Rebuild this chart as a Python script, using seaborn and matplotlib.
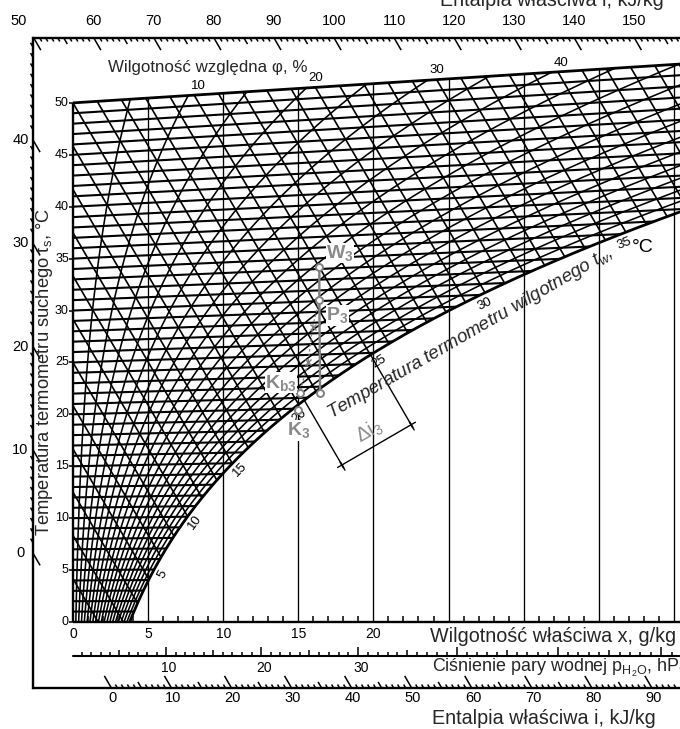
import numpy as np
import pandas as pd
import matplotlib
matplotlib.use("Agg")
import matplotlib.pyplot as plt
from matplotlib.patches import Polygon
from matplotlib.collections import LineCollection
import seaborn as sns

# ---------------- data (chart values) ----------------
isotherm_t = list(range(0, 51))                 # dry-bulb isotherms, °C
isenthalp_kcal = list(range(0, 38))             # isenthalps every 1 kcal/kg
phi_lines = list(range(5, 100, 5))              # relative humidity lines, %
x_vertical = [5, 10, 15, 20, 25, 30, 35, 40]    # g/kg
tw_labels = [5, 10, 15, 20, 25, 30, 35]         # wet-bulb labels on saturation curve
phi_labels = [10, 20, 30, 40]
t_labels = [0, 5, 10, 15, 20, 25, 30, 35, 40, 45, 50]
x_labels = [0, 5, 10, 15, 20]
p_labels = [10, 20, 30]
i_bottom_labels = [0, 10, 20, 30, 40, 50, 60, 70, 80, 90]
i_top_labels = [50, 60, 70, 80, 90, 100, 110, 120, 130, 140, 150]
i_left_labels = [0, 10, 20, 30, 40]
proc_names = ["W3", "P3", "D3", "Kb3", "K3"]
proc_x = [16.4, 16.4, 16.45, 15.1, 15.0]       # g/kg
proc_t = [33.2, 30.1, 21.4, 21.5, 19.9]        # °C
aux_x = [15.95, 15.65]                          # small x-marks between P3 and Kb3
aux_t = [27.6, 24.3]

# ---------------- psychrometric relations ----------------
P_ATM = 1013.25


def p_sat(t):
    return 6.112 * np.exp(17.62 * t / (243.12 + t))


def x_of(t, phi):
    pv = phi / 100.0 * p_sat(t)
    return 622.0 * pv / (P_ATM - pv)


def Y_of(t, x):  # oblique ordinate = i - 2.501 x
    return 1.005 * t + 0.00186 * t * x


# ---------------- figure / axes ----------------
sns.set_theme(style="white")
plt.rcParams["font.family"] = ["Liberation Sans", "DejaVu Sans"]
plt.rcParams["mathtext.fontset"] = "custom"
plt.rcParams["mathtext.rm"] = "Liberation Sans"
plt.rcParams["mathtext.it"] = "Liberation Sans:italic"
plt.rcParams["mathtext.bf"] = "Liberation Sans:bold"

fig = plt.figure(figsize=(6.8, 7.29), dpi=100)
ax = fig.add_axes([0, 0, 1, 1])
XL, XR, YB, YT = -4.86, 40.41, -10.36, 60.21
SX = 680.0 / (XR - XL)
SY = 729.0 / (YT - YB)


def px2d(px, py):
    return XL + px / SX, YT - py / SY


X_FRAME = -2.66
Y_TOP = 56.53
Y_BOT = -6.39
Y_P = -3.33
XE = XR + 1.0
K = "black"
GRAY = "#808080"

# clip region (unsaturated air, 0..50 °C)
tt = np.linspace(0, 50, 800)
xs = x_of(tt, 100)
keep = xs <= XR + 0.6
sat_x = xs[keep]
sat_Y = Y_of(tt[keep], sat_x)
poly = np.vstack([[0, 0], np.column_stack([sat_x, sat_Y]),
                  [XR + 0.6, sat_Y[-1]], [XR + 0.6, Y_of(50, XR + 0.6)],
                  [0, Y_of(50, 0)]])
clip = Polygon(poly, closed=True, transform=ax.transData, fill=False, edgecolor="none")


def draw_family(rows, lw, clip_path=None, color=K):
    df = pd.DataFrame(rows, columns=["x", "Y", "id"])
    n0 = len(ax.lines)
    sns.lineplot(data=df, x="x", y="Y", units="id", estimator=None, sort=False,
                 color=color, linewidth=lw, ax=ax, legend=False)
    for ln in ax.lines[n0:]:
        ln.set_solid_capstyle("butt")
        if clip_path is not None:
            ln.set_clip_path(clip_path)


# isenthalps
rows = []
for k in isenthalp_kcal:
    i = 4.1868 * k
    for xv in (0.0, XE):
        rows.append((xv, i - 2.501 * xv, k))
draw_family(rows, 1.2, clip)

# relative humidity curves
rows = []
tph = np.linspace(0, 50, 300)
for ph in phi_lines:
    xx = x_of(tph, ph)
    for a, b in zip(xx, Y_of(tph, xx)):
        rows.append((a, b, ph))
draw_family(rows, 1.15, clip)

# isotherms
rows = []
for t in isotherm_t[1:-1]:
    xend = min(x_of(t, 100), XE)
    for xv in (0.0, xend):
        rows.append((xv, Y_of(t, xv), t))
draw_family(rows, 1.5)

# vertical lines of constant x
rows = []
for xv in x_vertical:
    rows.append((xv, 0.0, xv))
    rows.append((xv, Y_of(50, xv), xv))
draw_family(rows, 0.95)

# boundaries: t=0 axis, t=50 top, x=0 left, saturation curve
draw_family([(0, 0, 0), (XE, 0, 0)], 1.7)
draw_family([(0, Y_of(50, 0), 1), (XE, Y_of(50, XE), 1)], 2.0)
draw_family([(0, 0, 2), (0, Y_of(50, 0), 2)], 1.7)
draw_family([(a, b, 3) for a, b in zip(sat_x, sat_Y)], 2.0)

# frame and auxiliary scale lines
ax.plot([X_FRAME, X_FRAME], [Y_BOT, Y_TOP], color=K, lw=1.7, solid_capstyle="projecting")
ax.plot([X_FRAME, XE], [Y_TOP, Y_TOP], color=K, lw=1.7)
ax.plot([X_FRAME, XE], [Y_BOT, Y_BOT], color=K, lw=1.7)
ax.plot([0, XE], [Y_P, Y_P], color=K, lw=1.5)

HYP = np.hypot(SX, 2.501 * SY)


def isen_seg(x0, y0, L, sign):
    dx = sign * L / HYP
    return [(x0, y0), (x0 + dx, y0 - 2.501 * dx)]


segs = []
# top enthalpy scale
for i in range(50, 158):
    x0 = (i - Y_TOP) / 2.501
    if x0 < X_FRAME - 0.01 or x0 > XR:
        continue
    L = 14 if i % 10 == 0 else (7 if i % 5 == 0 else 4)
    segs.append(isen_seg(x0, Y_TOP, L, +1))
# bottom enthalpy scale
for i in range(0, 95):
    x0 = (i - Y_BOT) / 2.501
    L = 14 if i % 10 == 0 else (7 if i % 5 == 0 else 4)
    segs.append(isen_seg(x0, Y_BOT, L, -1))
# left enthalpy scale
for i in range(0, 50):
    y0 = i - 2.501 * X_FRAME
    if y0 > Y_TOP:
        continue
    if i % 10 == 0:
        segs.append(isen_seg(X_FRAME, y0, 14, +1))
    else:
        segs.append(isen_seg(X_FRAME, y0, 5, -1))
# x-axis ticks
for xv in range(1, 41):
    if xv % 5:
        segs.append([(xv, 0), (xv, 5.5 / SY)])
# pressure ticks
for p in range(1, 62):
    xv = 622.0 * p / (P_ATM - p)
    if xv > XR:
        break
    L = 9 if p % 10 == 0 else (6 if p % 5 == 0 else 4)
    segs.append([(xv, Y_P), (xv, Y_P + L / SY)])
# temperature stubs
for t in t_labels:
    segs.append([(0, Y_of(t, 0)), (-4 / SX, Y_of(t, 0))])
ax.add_collection(LineCollection(segs, colors=K, linewidths=1.1))

NUM = dict(color=K, ha="center", va="center", textcoords="offset points")

for i in i_top_labels:
    x0 = (i - Y_TOP) / 2.501
    if i == 50:
        ax.annotate(str(i), (x0, Y_TOP), xytext=(-11, 12), fontsize=10.5, **NUM)
    else:
        ax.annotate(str(i), (x0, Y_TOP), xytext=(0, 12), fontsize=10.5, **NUM)
for i in i_bottom_labels:
    x0 = (i - Y_BOT) / 2.501
    ax.annotate(str(i), (x0, Y_BOT), xytext=(1, -7.5), fontsize=10.5, **NUM)
for i in i_left_labels:
    ax.annotate(str(i), (X_FRAME, i - 2.501 * X_FRAME), xytext=(-9, 0), fontsize=10.5, **NUM)
for t in t_labels:
    ax.annotate(str(t), (0, Y_of(t, 0)), xytext=(-3, 0), fontsize=9,
                color=K, ha="right", va="center", textcoords="offset points")
for xv in x_labels:
    ax.annotate(str(xv), (xv, 0), xytext=(0, -9), fontsize=10, **NUM)
for p in p_labels:
    ax.annotate(str(p), (622.0 * p / (P_ATM - p), Y_P), xytext=(2, -8.5), fontsize=10, **NUM)

# wet-bulb labels along the saturation curve
for tw in tw_labels:
    x0 = x_of(tw, 100)
    y0 = Y_of(tw, x0)
    x1 = x_of(tw + 0.2, 100)
    y1 = Y_of(tw + 0.2, x1)
    a = np.arctan2((y1 - y0) * SY, (x1 - x0) * SX)
    d = 7.0
    ax.annotate(str(tw), (x0, y0), xytext=(d * np.sin(a), -d * np.cos(a)),
                textcoords="offset points", rotation=np.degrees(a), fontsize=9.5,
                ha="center", va="center", rotation_mode="anchor", color=K)
    if tw == 35:
        ax.annotate("°C", (x0, y0), xytext=(d * np.sin(a) + 13, -d * np.cos(a) - 3),
                    textcoords="offset points", fontsize=14, ha="center", va="center", color=K)

# relative humidity labels on the top boundary
for ph in phi_labels:
    x0 = x_of(50, ph)
    ax.annotate(str(ph), (x0, Y_of(50, x0)), xytext=(7, 7), fontsize=9.5, **NUM)

# ---------------- titles / axis texts ----------------
TXT = 14.2
ax.text(*px2d(108, 68), "Wilgotność względna φ, %", fontsize=12.2, ha="left", va="center")
ax.text(*px2d(430, 637), "Wilgotność właściwa x, g/kg", fontsize=TXT, ha="left", va="center")
ax.text(*px2d(432, 668), r"Ciśnienie pary wodnej p$_{\mathrm{H_2O}}$, hPa", fontsize=12.9,
        ha="left", va="center")
ax.text(*px2d(432, 719), "Entalpia właściwa i, kJ/kg", fontsize=TXT, ha="left", va="center")
ax.text(*px2d(440, 1), "Entalpia właściwa i, kJ/kg", fontsize=TXT, ha="left", va="center")
ax.text(*px2d(45, 372), r"Temperatura termometru suchego t$_{\mathrm{s}}$, °C", fontsize=13.2,
        rotation=90, ha="center", va="center")
ax.text(*px2d(331, 419), r"Temperatura termometru wilgotnego t$_{w}$,", fontsize=13.4,
        style="italic", rotation=30, rotation_mode="anchor", ha="left", va="baseline")

# ---------------- process W3 -> P3 -> D3, Kb3, K3 ----------------
pY = [Y_of(t, x) for t, x in zip(proc_t, proc_x)]
P = dict(zip(proc_names, zip(proc_x, pY)))
ax.plot([P["W3"][0], P["P3"][0], P["D3"][0]], [P["W3"][1], P["P3"][1], P["D3"][1]],
        color=GRAY, lw=1.7, zorder=5)
auxY = [Y_of(t, x) for t, x in zip(aux_t, aux_x)]
ax.plot([P["P3"][0]] + aux_x + [P["Kb3"][0]], [P["P3"][1]] + auxY + [P["Kb3"][1]],
        color=GRAY, lw=0.9, ls=(0, (2, 2)), zorder=5)
ax.plot(aux_x, auxY, ls="none", marker="x", ms=4, mew=1.0, color=GRAY, zorder=6)
ax.plot(proc_x, pY, ls="none", marker="o", ms=5, mfc="white", mec=GRAY, mew=1.4, zorder=6)

LAB = dict(fontsize=14, color="#8a8a8a", textcoords="offset points",
           bbox=dict(facecolor="white", edgecolor="none", pad=0.3), zorder=7)
ax.annotate(r"$\mathbf{W_3}$", P["W3"], xytext=(5, 10), ha="left", va="center", **LAB)
ax.annotate(r"$\mathbf{P_3}$", P["P3"], xytext=(5, -11), ha="left", va="center", **LAB)
ax.annotate(r"$\mathbf{K_{b3}}$", P["Kb3"], xytext=(-2, 7), ha="right", va="center", **LAB)
ax.annotate(r"$\mathbf{K_3}$", P["K3"], xytext=(0, -15), ha="center", va="center", **LAB)

# Δi3 construction: isenthalps through Kb3 and W3, dimension line between them
iK = P["Kb3"][1] + 2.501 * P["Kb3"][0]
iW = P["W3"][1] + 2.501 * P["W3"][0]
ex, ey = SX / HYP, -2.501 * SY / HYP          # isenthalp direction (px, y up), down-right
nx, ny = 2.501 * SY / HYP, SX / HYP           # perpendicular, up-right
Y_dim = 15.2
xa = (iK - Y_dim) / 2.501
s = (iW - iK) / (2.501 * nx / SX + ny / SY)
xb, yb = xa + s * nx / SX, Y_dim + s * ny / SY


def below_sat_line(i, x_end):
    xx = np.linspace(10, x_end, 400)
    YY = i - 2.501 * xx
    tt_ = YY / (1.005 + 0.00186 * xx)
    m = xx >= x_of(tt_, 100)
    return xx[m], YY[m]


ext = 6
for (i, x0, y0) in ((iK, xa, Y_dim), (iW, xb, yb)):
    x_end = x0 + ext * ex / SX
    lx, ly = below_sat_line(i, x_end)
    ax.plot(lx, ly, color=K, lw=1.0)
ax.plot([xa - 5 * nx / SX, xb + 5 * nx / SX], [Y_dim - 5 * ny / SY, yb + 5 * ny / SY],
        color=K, lw=1.0)
for (x0, y0) in ((xa, Y_dim), (xb, yb)):
    ax.plot([x0 - 3 * ex / SX, x0 + 3 * ex / SX], [y0 - 3 * ey / SY, y0 + 3 * ey / SY],
            color=K, lw=1.3)
xm, ym = (xa + xb) / 2, (Y_dim + yb) / 2
ax.annotate(r"$\Delta$i$_3$", (xm, ym), xytext=(-3 * ex, -3 * ey),
            textcoords="offset points", rotation=np.degrees(np.arctan2(ny, nx)),
            rotation_mode="anchor", ha="center", va="bottom", fontsize=14.5, color="#8a8a8a")

ax.set_xlim(XL, XR)
ax.set_ylim(YB, YT)
ax.axis("off")
fig.savefig("out.png", dpi=100)
